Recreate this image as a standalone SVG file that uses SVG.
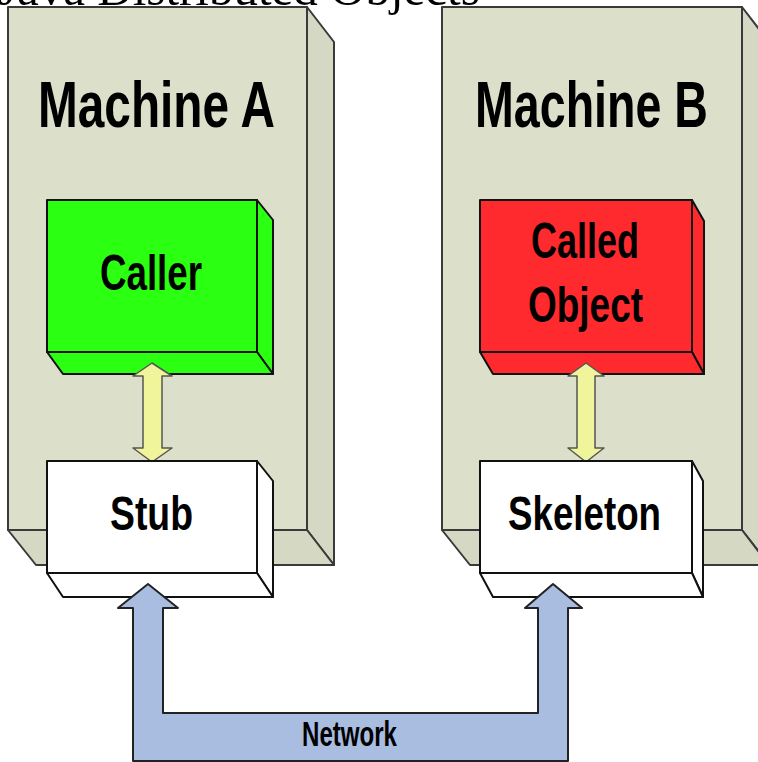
<svg xmlns="http://www.w3.org/2000/svg" width="758" height="762" viewBox="0 0 758 762">
  <defs>
    <style>
      .mach { fill: #DCDFCA; stroke: #3a3a3a; stroke-width: 2; stroke-linejoin: round; }
      .mside { fill: #D5D8C2; stroke: #3a3a3a; stroke-width: 2; stroke-linejoin: round; }
      .green { fill: #2BFF12; stroke: #111; stroke-width: 2; stroke-linejoin: round; }
      .red { fill: #FF2A2E; stroke: #111; stroke-width: 2; stroke-linejoin: round; }
      .white { fill: #FFFFFF; stroke: #111; stroke-width: 2; stroke-linejoin: round; }
      .yarrow { fill: #F0F59C; stroke: #555; stroke-width: 1.5; stroke-linejoin: round; }
      .barrow { fill: #A9BDE0; stroke: #222; stroke-width: 2; stroke-linejoin: round; }
      .lbl { font-family: "Liberation Sans", Arial, sans-serif; font-weight: bold; fill: #000; text-anchor: start; }
      .title { font-family: "Liberation Serif", "Times New Roman", serif; font-size: 49px; fill: #000; }
    </style>
  </defs>

  <text class="title" x="-2" y="5">Java Distributed Objects</text>

  <g id="machineA">
    <rect class="mach" x="8" y="7" width="299" height="523"/>
    <polygon class="mside" points="307,7 334,42 334,565 307,530"/>
    <polygon class="mside" points="8,530 307,530 334,565 36,565"/>
    <text class="lbl" x="38" y="127" font-size="64" textLength="237" lengthAdjust="spacingAndGlyphs">Machine A</text>
  </g>

  <g id="machineB">
    <rect class="mach" x="442" y="7" width="300" height="523"/>
    <polygon class="mside" points="742,7 769,42 769,565 742,530"/>
    <polygon class="mside" points="442,530 742,530 769,565 470,565"/>
    <text class="lbl" x="475" y="127" font-size="64" textLength="233" lengthAdjust="spacingAndGlyphs">Machine B</text>
  </g>

  <g id="caller">
    <rect class="green" x="47" y="200" width="210" height="152"/>
    <polygon class="green" points="257,200 273,220 273,374 257,352"/>
    <polygon class="green" points="47,352 257,352 273,374 63,374"/>
    <text class="lbl" x="100" y="290" font-size="50" textLength="102" lengthAdjust="spacingAndGlyphs">Caller</text>
  </g>

  <g id="calledObject">
    <rect class="red" x="480" y="200" width="212" height="152"/>
    <polygon class="red" points="692,200 704,221 704,374 692,352"/>
    <polygon class="red" points="480,352 692,352 704,374 493,374"/>
    <text class="lbl" x="531" y="258" font-size="50" textLength="108" lengthAdjust="spacingAndGlyphs">Called</text>
    <text class="lbl" x="528" y="322" font-size="50" textLength="115" lengthAdjust="spacingAndGlyphs">Object</text>
  </g>

  <g id="connectors">
    <polygon id="arrowA" class="yarrow" points="152,363 172,376 162,376 162,448 172,448 152,462 133,448 143,448 143,376 133,376"/>
    <polygon id="arrowB" class="yarrow" points="586,363 604,376 595,376 595,448 604,448 586,462 568,448 577,448 577,376 568,376"/>
  </g>

  <g id="stub">
    <rect class="white" x="47" y="461" width="210" height="112"/>
    <polygon class="white" points="257,461 273,481 273,597 257,573"/>
    <polygon class="white" points="47,573 257,573 273,597 63,597"/>
    <text class="lbl" x="110" y="530" font-size="48" textLength="83" lengthAdjust="spacingAndGlyphs">Stub</text>
  </g>

  <g id="skeleton">
    <rect class="white" x="480" y="461" width="212" height="112"/>
    <polygon class="white" points="692,461 703,481 703,597 692,573"/>
    <polygon class="white" points="480,573 692,573 703,597 493,597"/>
    <text class="lbl" x="508" y="530" font-size="48" textLength="153" lengthAdjust="spacingAndGlyphs">Skeleton</text>
  </g>

  <g id="network">
    <polygon class="barrow" points="148,584 178,608 163,608 163,713 538,713 538,608 525,608 553,584 582,608 568,608 568,761 133,761 133,608 118,608"/>
    <text class="lbl" x="302" y="746" font-size="35" textLength="95" lengthAdjust="spacingAndGlyphs">Network</text>
  </g>
</svg>
